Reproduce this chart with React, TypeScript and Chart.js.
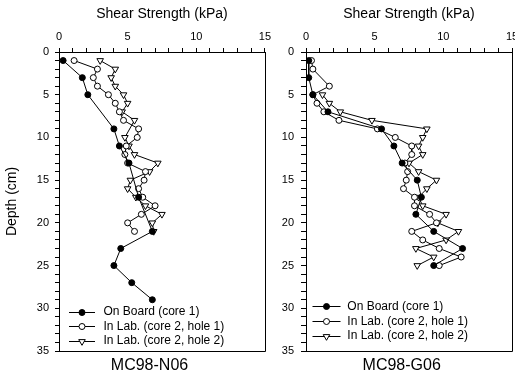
import React, { useEffect, useRef } from 'react';
import { Chart, registerables } from 'chart.js';

Chart.register(...registerables);

const FONT = "'Liberation Sans', Arial, Helvetica, sans-serif";

// ---- MC98-N06 ----
const N06_BOARD_DEPTH = [1, 3, 5, 9, 11, 13, 17, 21, 23, 25, 27, 29];
const N06_BOARD_KPA = [0.3, 1.7, 2.1, 4.0, 4.4, 5.1, 5.8, 6.8, 4.5, 4.0, 5.3, 6.8];

const N06_HOLE1_DEPTH = [1, 2, 3, 4, 5, 6, 7, 8, 9, 10, 11, 12, 13, 14, 15, 16, 17, 18, 19, 20, 21];
const N06_HOLE1_KPA = [1.1, 2.8, 2.5, 2.8, 3.6, 4.1, 4.4, 4.7, 5.8, 5.7, 4.9, 4.8, 5.0, 6.3, 6.2, 5.8, 6.1, 7.0, 6.0, 5.0, 5.5];

const N06_HOLE2_DEPTH = [1, 2, 3, 4, 5, 6, 7, 8, 10, 11, 12, 13, 14, 15, 16, 17, 18, 19, 20, 21];
const N06_HOLE2_KPA = [3.0, 4.1, 3.8, 4.1, 4.7, 5.0, 4.6, 5.5, 4.8, 5.1, 5.5, 7.2, 6.6, 5.2, 5.0, 5.6, 6.3, 7.5, 6.8, 6.9];

// ---- MC98-G06 ----
const G06_BOARD_DEPTH = [1, 3, 5, 7, 9, 11, 13, 15, 17, 19, 21, 23, 25];
const G06_BOARD_KPA = [0.2, 0.2, 0.5, 1.6, 5.5, 6.4, 7.0, 8.1, 8.4, 8.0, 9.3, 11.4, 9.3];

const G06_HOLE1_DEPTH = [1, 2, 4, 5, 6, 7, 8, 9, 10, 11, 12, 13, 14, 15, 16, 17, 18, 19, 20, 21, 22, 23, 24, 25];
const G06_HOLE1_KPA = [0.4, 0.5, 1.7, 0.5, 0.8, 1.3, 2.4, 5.2, 6.5, 7.7, 7.7, 7.2, 7.4, 7.3, 7.1, 7.9, 7.9, 9.0, 9.5, 7.7, 8.5, 9.7, 11.3, 9.7];

const G06_HOLE2_DEPTH = [5, 6, 7, 8, 9, 10, 11, 12, 13, 14, 15, 16, 17, 18, 19, 20, 21, 22, 23, 24, 25];
const G06_HOLE2_KPA = [1.2, 1.7, 2.5, 4.8, 8.8, 8.5, 8.2, 8.5, 7.5, 8.2, 9.5, 8.8, 8.2, 8.5, 10.2, 9.6, 11.1, 10.2, 8.0, 9.3, 8.1];

const SERIES_LABELS = ['On Board (core 1)', 'In Lab. (core 2, hole 1)', 'In Lab. (core 2, hole 2)'];
const X_TICK_STEP = 1;
const Y_TICK_STEP = 1;
const X_MAX = 15;
const Y_MAX = 35;

const toPoints = (xs: number[], ys: number[]) => xs.map((x, i) => ({ x, y: ys[i] }));

function drawMarker(ctx: CanvasRenderingContext2D, kind: number, x: number, y: number) {
  ctx.save();
  ctx.strokeStyle = '#000';
  ctx.lineWidth = 1;
  ctx.beginPath();
  if (kind === 2) {
    const r = 3.8;
    let rad = Math.PI;
    ctx.moveTo(x + Math.sin(rad) * r, y - Math.cos(rad) * r);
    rad += (2 * Math.PI) / 3;
    ctx.lineTo(x + Math.sin(rad) * r, y - Math.cos(rad) * r);
    rad += (2 * Math.PI) / 3;
    ctx.lineTo(x + Math.sin(rad) * r, y - Math.cos(rad) * r);
    ctx.closePath();
  } else {
    ctx.arc(x, y, 3, 0, Math.PI * 2);
  }
  ctx.fillStyle = kind === 0 ? '#000' : '#fff';
  ctx.fill();
  ctx.stroke();
  ctx.restore();
}

const framePlugin = {
  id: 'frameLegend',
  afterDraw(chart: any, _args: any, opts: any) {
    const { ctx, chartArea: a } = chart;
    ctx.save();
    ctx.strokeStyle = '#000';
    ctx.lineWidth = 1;
    ctx.beginPath();
    const r = Math.round(a.right) + 0.5;
    const b = Math.round(a.bottom) + 0.5;
    ctx.moveTo(r, Math.round(a.top));
    ctx.lineTo(r, b);
    ctx.lineTo(Math.round(a.left), b);
    ctx.stroke();
    ctx.restore();

    // inner legend
    const { x, y, gap, len, textX } = opts;
    chart.data.datasets.forEach((ds: any, i: number) => {
      const yy = y + i * gap;
      ctx.save();
      ctx.strokeStyle = '#000';
      ctx.lineWidth = 1;
      ctx.beginPath();
      ctx.moveTo(x, Math.round(yy) + 0.5);
      ctx.lineTo(x + len, Math.round(yy) + 0.5);
      ctx.stroke();
      ctx.restore();
      drawMarker(ctx, i, x + len / 2, Math.round(yy) + 0.5);
      ctx.save();
      ctx.fillStyle = '#000';
      ctx.font = `12px ${FONT}`;
      ctx.textBaseline = 'middle';
      ctx.textAlign = 'left';
      ctx.fillText(ds.label, textX, yy + 0.5);
      ctx.restore();
    });
  },
};

type PanelProps = {
  board: { x: number; y: number }[];
  hole1: { x: number; y: number }[];
  hole2: { x: number; y: number }[];
  width: number;
  yWidth: number;
  padRight: number;
  showYTitle: boolean;
  legend: { x: number; y: number; gap: number; len: number; textX: number };
  yTickPad: number;
  yTickLen: number;
};

function Panel(p: PanelProps) {
  const ref = useRef<HTMLCanvasElement>(null);
  useEffect(() => {
    if (!ref.current) return;
    const common = { showLine: true, borderColor: '#000', borderWidth: 1, tension: 0, pointBorderWidth: 1, pointBorderColor: '#000' };
    const chart = new Chart(ref.current, {
      type: 'scatter',
      data: {
        datasets: [
          { ...common, label: SERIES_LABELS[0], data: p.board, pointStyle: 'circle', pointRadius: 3, pointBackgroundColor: '#000', backgroundColor: '#000' },
          { ...common, label: SERIES_LABELS[1], data: p.hole1, pointStyle: 'circle', pointRadius: 3, pointBackgroundColor: '#fff', backgroundColor: '#fff' },
          { ...common, label: SERIES_LABELS[2], data: p.hole2, pointStyle: 'triangle', pointRotation: 180, pointRadius: 3.8, pointBackgroundColor: '#fff', backgroundColor: '#fff' },
        ],
      } as any,
      options: {
        responsive: false,
        animation: false,
        layout: { padding: { left: 0, right: p.padRight, top: 0, bottom: 32 } },
        plugins: {
          legend: { display: false },
          tooltip: { enabled: false },
          frameLegend: p.legend,
        } as any,
        scales: {
          x: {
            type: 'linear',
            position: 'top',
            min: 0,
            max: X_MAX,
            ticks: {
              stepSize: X_TICK_STEP,
              autoSkip: false,
              maxRotation: 0,
              color: '#000',
              padding: 4,
              font: { size: 11, family: FONT },
              callback: (v: any) => (Number(v) % 5 === 0 ? String(v) : ''),
            },
            grid: { display: true, drawOnChartArea: false, drawTicks: true, tickLength: 4, color: '#000' },
            border: { display: true, color: '#000', width: 1 },
            title: { display: true, text: 'Shear Strength (kPa)', color: '#000', font: { size: 14, family: FONT }, padding: { top: 5.6, bottom: 0 } },
            afterFit: (s: any) => { s.height = 52; },
          },
          y: {
            type: 'linear',
            position: 'left',
            reverse: true,
            min: 0,
            max: Y_MAX,
            ticks: {
              stepSize: Y_TICK_STEP,
              autoSkip: false,
              color: '#000',
              padding: p.yTickPad,
              font: { size: 11, family: FONT },
              callback: (v: any) => (Number(v) % 5 === 0 ? String(v) : ''),
            },
            grid: { display: true, drawOnChartArea: false, drawTicks: true, tickLength: p.yTickLen, color: '#000' },
            border: { display: true, color: '#000', width: 1 },
            title: { display: p.showYTitle, text: 'Depth (cm)', color: '#000', font: { size: 14, family: FONT }, padding: { top: 3.6, bottom: 0 } },
            afterFit: (s: any) => { s.width = p.yWidth; },
          },
        } as any,
      },
      plugins: [framePlugin as any],
    });
    return () => chart.destroy();
  }, []);
  return <canvas ref={ref} width={p.width} height={383} style={{ display: 'block' }} />;
}

const captionStyle: React.CSSProperties = {
  position: 'absolute',
  top: 355,
  width: 140,
  textAlign: 'center',
  font: `16px ${FONT}`,
  lineHeight: '20px',
  color: '#000',
};

export default function App() {
  return (
    <div style={{ position: 'fixed', left: 0, top: 0, width: 515, height: 383, overflow: 'hidden', background: '#fff' }}>
      <div style={{ position: 'absolute', left: 0, top: 0 }}>
        <Panel
          board={toPoints(N06_BOARD_KPA, N06_BOARD_DEPTH)}
          hole1={toPoints(N06_HOLE1_KPA, N06_HOLE1_DEPTH)}
          hole2={toPoints(N06_HOLE2_KPA, N06_HOLE2_DEPTH)}
          width={275}
          yWidth={59}
          padRight={9}
          showYTitle={true}
          yTickPad={6}
          yTickLen={4}
          legend={{ x: 69, y: 311.5, gap: 14.5, len: 26, textX: 103.5 }}
        />
      </div>
      <div style={{ position: 'absolute', left: 270, top: 0 }}>
        <Panel
          board={toPoints(G06_BOARD_KPA, G06_BOARD_DEPTH)}
          hole1={toPoints(G06_HOLE1_KPA, G06_HOLE1_DEPTH)}
          hole2={toPoints(G06_HOLE2_KPA, G06_HOLE2_DEPTH)}
          width={260}
          yWidth={36}
          padRight={18}
          showYTitle={false}
          yTickPad={7}
          yTickLen={5}
          legend={{ x: 42.5, y: 306, gap: 14.8, len: 28, textX: 77.3 }}
        />
      </div>
      <div style={{ ...captionStyle, left: 149.5 - 70 }}>MC98-N06</div>
      <div style={{ ...captionStyle, left: 401.7 - 70 }}>MC98-G06</div>
    </div>
  );
}
